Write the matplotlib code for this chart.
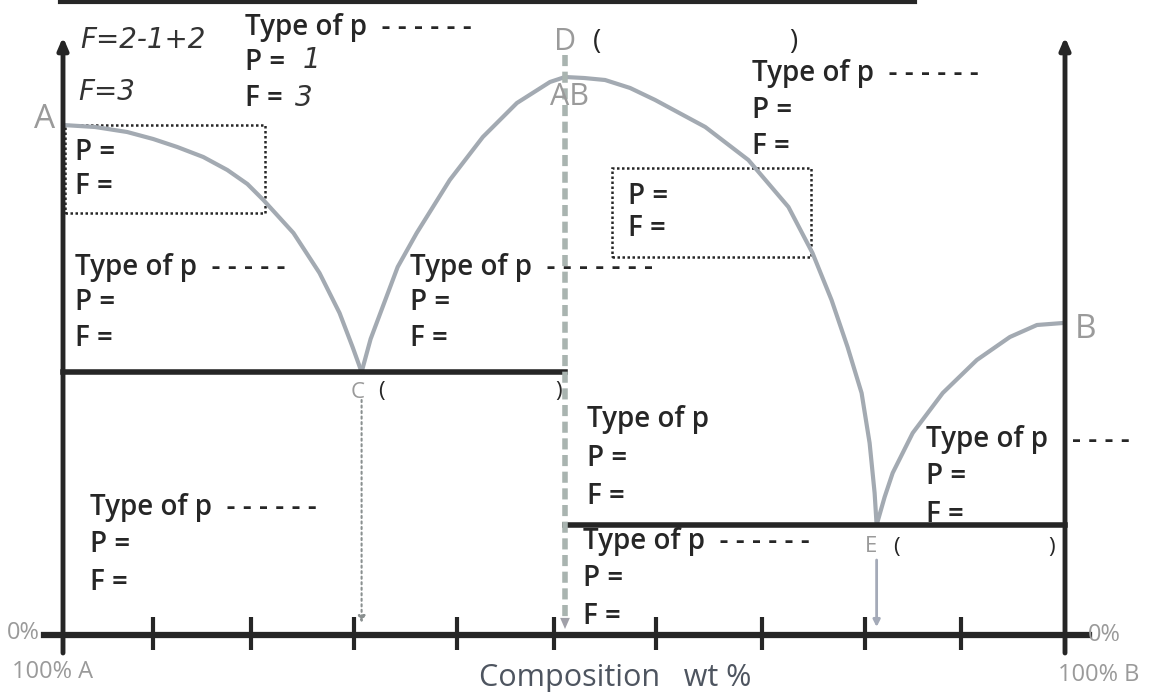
import matplotlib.pyplot as plt
from matplotlib.patches import Rectangle

# composition (wt % B) and temperature (arbitrary units)
curve_ac_x = [0, 3.2, 6.4, 9.0, 11.4, 14.0, 16.4, 18.4, 20.0, 23.0, 25.6, 27.6, 28.9, 29.8]
curve_ac_t = [510, 508, 503, 496, 488, 478, 465, 451, 435, 402, 362, 322, 288, 263]

curve_cd_x = [29.8, 30.7, 31.9, 33.4, 35.3, 38.6, 41.9, 45.3, 48.6, 50.1]
curve_cd_t = [263, 296, 328, 368, 402, 455, 498, 532, 553, 558]

curve_de_x = [50.1, 52.0, 54.1, 56.6, 59.1, 64.1, 68.4, 72.4, 74.8, 76.7, 78.3, 79.7, 80.5, 81.0, 81.2]
curve_de_t = [558, 557, 555, 547, 535, 508, 475, 428, 382, 335, 288, 242, 192, 142, 110]

curve_eb_x = [81.2, 82.0, 82.8, 84.8, 87.8, 91.2, 94.5, 97.2, 99.8]
curve_eb_t = [110, 138, 162, 202, 242, 275, 298, 310, 312]

eutectic_c = (29.8, 263)
eutectic_e = (81.2, 110)
compound_x = 50.1

tick_pos = [9.0, 18.8, 29.0, 39.3, 49.0, 59.2, 69.8, 80.0, 89.6]

DARK = '#262626'
GREY = '#9a9a9a'
CURVE = '#a3aab2'


def px(x, y):
    # picture pixels -> data coords (only used for placing labels)
    return (x - 63) / 10.02, 635 - y


plt.rcParams['font.family'] = ['Open Sans', 'DejaVu Sans']

fig = plt.figure(figsize=(11.57, 6.92), dpi=100)
ax = fig.add_axes([0, 0, 1, 1])
ax.set_xlim(-63 / 10.02, (1157 - 63) / 10.02)
ax.set_ylim(-57, 635)
ax.axis('off')

# liquidus curves
for cx, ct in [(curve_ac_x, curve_ac_t), (curve_cd_x, curve_cd_t),
               (curve_de_x, curve_de_t), (curve_eb_x, curve_eb_t)]:
    ax.plot(cx, ct, color=CURVE, lw=3, solid_capstyle='round', solid_joinstyle='round')

# eutectic lines
ax.plot([0, compound_x], [eutectic_c[1]] * 2, color=DARK, lw=4)
ax.plot([compound_x, 100], [eutectic_e[1]] * 2, color=DARK, lw=4)

# axes with arrows
ax.plot([-1.9, 102.4], [0, 0], color=DARK, lw=4.5)
for xa in [0, 100]:
    ax.annotate('', xy=(xa, 598), xytext=(xa, -18),
                arrowprops=dict(arrowstyle='-|>,head_length=0.7,head_width=0.3',
                                lw=3.5, color=DARK, shrinkA=0, shrinkB=0))
ax.vlines(tick_pos, -15, 18, color=DARK, lw=3)

# compound line and arrows down from the eutectics
ax.plot([compound_x, compound_x], [580, 18], color='#a9b4b0', lw=4, dashes=(2, 1))
ax.annotate('', xy=(compound_x, 6), xytext=(compound_x, 30),
            arrowprops=dict(arrowstyle='-|>,head_length=0.8,head_width=0.35',
                            lw=0, color='#a0a0a8', shrinkA=0, shrinkB=0))
ax.annotate('', xy=(eutectic_c[0], 12), xytext=(eutectic_c[0], 235),
            arrowprops=dict(arrowstyle='-|>', lw=1.5, ls=':', color='#8a9090',
                            shrinkA=0, shrinkB=0))
ax.annotate('', xy=(eutectic_e[0], 8), xytext=(eutectic_e[0], 75),
            arrowprops=dict(arrowstyle='-|>', lw=2, color='#a4aab8',
                            shrinkA=0, shrinkB=0))

# dotted boxes
for (x0, y0, x1, y1) in [(65, 125, 265, 213), (612, 168, 811, 257)]:
    bx, by = px(x0, y1)
    bx1, by1 = px(x1, y0)
    ax.add_patch(Rectangle((bx, by), bx1 - bx, by1 - by, fill=False,
                           ls=(0, (1, 1)), lw=1.8, color=DARK))

# top edge of the page table
ax.plot(*zip(px(60, 2), px(915, 2)), color=DARK, lw=3)

fs = 20
tx = dict(fontsize=fs, color=DARK, va='center', ha='left', fontweight='semibold')


def block(x, y, dy, first='Type of p  - - - - - -'):
    for i, s in enumerate([first, 'P =', 'F =']):
        ax.text(*px(x, y + i * dy), s, **tx)


block(245, 28, 35, 'Type of p  - - - - - -')
block(75, 268, 35, 'Type of p  - - - - -')
block(410, 268, 35, 'Type of p  - - - - - - -')
block(752, 73, 37, 'Type of p  - - - - - -')
block(587, 420, 38, 'Type of p')
block(926, 440, 37, 'Type of p')
block(583, 542, 37)
block(90, 508, 37)
ax.text(*px(1072, 440), '- - - -', **tx)

for x, y, s in [(75, 152, 'P ='), (75, 187, 'F ='), (628, 197, 'P ='), (628, 228, 'F =')]:
    ax.text(*px(x, y), s, **tx)

# handwritten answers
hw = dict(color='#333333', fontsize=20, fontweight='light', fontstyle='italic',
          va='center', family=['DejaVu Sans'])
ax.text(*px(80, 40), 'F=2-1+2', **hw)
ax.text(*px(78, 92), 'F=3', **hw)
ax.text(*px(303, 60), '1', **hw)
ax.text(*px(295, 98), '3', **hw)

# point labels
ax.text(*px(45, 120), 'A', fontsize=24, color=GREY, ha='center', va='center')
ax.text(*px(1085, 330), 'B', fontsize=24, color=GREY, ha='center', va='center')
ax.text(*px(570, 97), 'AB', fontsize=22, color=GREY, ha='center', va='center')
ax.text(*px(565, 42), 'D', fontsize=22, color=GREY, ha='center', va='center')
ax.text(*px(597, 42), '(', fontsize=20, color=DARK, ha='center', va='center')
ax.text(*px(793, 42), ')', fontsize=20, color=DARK, ha='center', va='center')
ax.text(*px(358, 392), 'C', fontsize=16, color=GREY, ha='center', va='center')
ax.text(*px(381, 392), '(', fontsize=16, color=DARK, ha='center', va='center')
ax.text(*px(559, 392), ')', fontsize=16, color=DARK, ha='center', va='center')
ax.text(*px(871, 547), 'E', fontsize=16, color=GREY, ha='center', va='center')
ax.text(*px(896, 547), '(', fontsize=16, color=DARK, ha='center', va='center')
ax.text(*px(1052, 547), ')', fontsize=16, color=DARK, ha='center', va='center')

ax.text(*px(7, 633), '0%', fontsize=17, color=GREY, va='center')
ax.text(*px(12, 672), '100% A', fontsize=17, color=GREY, va='center')
ax.text(*px(1088, 635), '0%', fontsize=17, color=GREY, va='center')
ax.text(*px(1058, 675), '100% B', fontsize=17, color=GREY, va='center')
ax.text(*px(615, 678), 'Composition   wt %', fontsize=22, color='#4e5560',
        ha='center', va='center')

plt.savefig('out.png', dpi=100)
